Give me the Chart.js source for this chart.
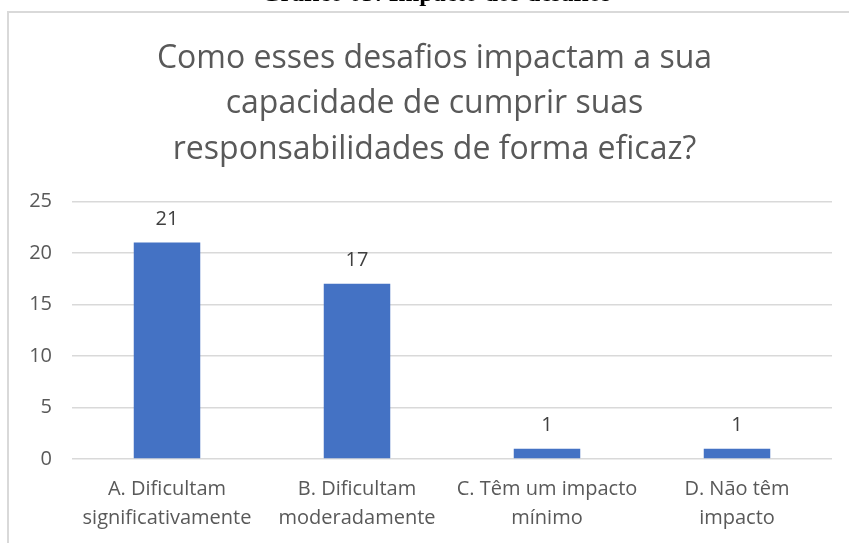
<!DOCTYPE html>
<html>
<head>
<meta charset="utf-8">
<script src="https://cdn.jsdelivr.net/npm/chart.js@4/dist/chart.umd.min.js"></script>
<style>
  html,body{margin:0;padding:0;background:#fff;}
  #wrap{width:849px;height:543px;position:relative;}
</style>
</head>
<body>
<div id="wrap"><canvas id="c" width="849" height="543"></canvas></div>
<script>
/* ---------- data ---------- */
const caption    = 'Gráfico 03: Impacto dos desafios';
const titleLines = ['Como esses desafios impactam a sua', 'capacidade de cumprir suas', 'responsabilidades de forma eficaz?'];
const categories = [
  ['A. Dificultam', 'significativamente'],
  ['B. Dificultam', 'moderadamente'],
  ['C. Têm um impacto', 'mínimo'],
  ['D. Não têm', 'impacto']
];
const values = [21, 17, 1, 1];
const yTicks = [0, 5, 10, 15, 20, 25];

/* ---------- style ---------- */
const FONT  = '"Open Sans", "Noto Sans", sans-serif';
const GREY  = '#595959';
const BLUE  = '#4472C4';

/* frame + top caption (cut off by the crop) */
const framePlugin = {
  id:'frame',
  beforeDraw(ch){
    const c = ch.ctx;
    c.save();
    c.fillStyle = '#fff';
    c.fillRect(0,0,ch.width,ch.height);
    c.strokeStyle = '#d9d9d9';
    c.lineWidth = 2;
    c.strokeRect(8, 12, ch.width + 20, ch.height + 20);
    c.fillStyle = '#000';
    c.font = 'bold 25px "Liberation Serif", "DejaVu Serif", serif';
    c.textAlign = 'center';
    c.textBaseline = 'alphabetic';
    c.fillText(caption, 436, 1);
    c.restore();
  },
  // y tick labels sit left of the layout padding; widen the scale's clip box
  afterLayout(ch){ ch.scales.y.left = 15; }
};

/* value labels above bars */
const valuePlugin = {
  id:'vals',
  afterDatasetsDraw(ch){
    const c = ch.ctx;
    c.save();
    c.fillStyle = '#404040';
    c.font = '20px ' + FONT;
    c.textAlign = 'center';
    c.textBaseline = 'alphabetic';
    ch.getDatasetMeta(0).data.forEach((bar,i)=>{
      c.fillText(String(values[i]), bar.x, bar.y - 18);
    });
    c.restore();
  }
};

new Chart(document.getElementById('c'), {
  type:'bar',
  data:{
    labels: categories,
    datasets:[{ data: values, backgroundColor: BLUE, borderWidth:0,
                categoryPercentage: 1, barPercentage: 0.35 }]
  },
  options:{
    responsive:false,
    animation:false,
    layout:{ padding:{ left:37, right:17, top:0, bottom:0 } },
    plugins:{
      legend:{ display:false },
      tooltip:{ enabled:false },
      title:{
        display:true,
        text: titleLines,
        color: GREY,
        font:{ family: FONT, size: 32, weight:'normal', lineHeight: 1.42 },
        padding:{ top: 36, bottom: 29 }
      }
    },
    scales:{
      x:{
        grid:{ display:false, drawTicks:false },
        border:{ display:false },
        ticks:{ color: GREY, font:{ family: FONT, size: 20, lineHeight: 1.45 }, padding: 16, maxRotation:0, autoSkip:false },
        afterFit(s){ s.height = 84; }
      },
      y:{
        min: 0, max: 25,
        afterBuildTicks(s){ s.ticks = yTicks.map(v=>({value:v})); },
        grid:{ color:'#d9d9d9', lineWidth: 1.5, drawTicks:false },
        border:{ display:false },
        ticks:{ color: GREY, font:{ family: FONT, size: 20 }, padding: 20 },
        afterFit(s){ s.width = 35; }
      }
    }
  },
  plugins:[framePlugin, valuePlugin]
});
</script>
</body>
</html>
